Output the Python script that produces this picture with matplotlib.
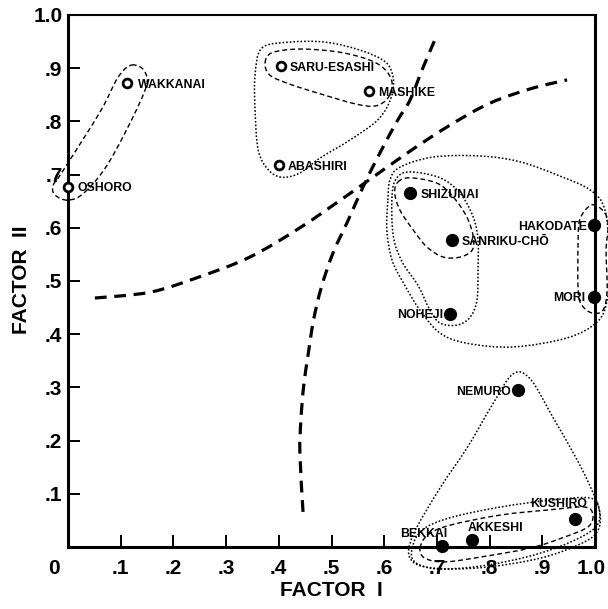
import numpy as np
import matplotlib
matplotlib.use("Agg")
import matplotlib.pyplot as plt
from matplotlib.path import Path
from matplotlib.patches import PathPatch
from matplotlib.transforms import ScaledTranslation

plt.rcParams['lines.scale_dashes'] = False
plt.rcParams['font.family'] = ['Liberation Sans', 'DejaVu Sans']

# ---- station loadings on the two factors ----
open_names = ["WAKKANAI", "OSHORO", "SARU-ESASHI", "MASHIKE", "ABASHIRI"]
open_f1 = [0.112, 0.000, 0.404, 0.571, 0.400]
open_f2 = [0.872, 0.677, 0.904, 0.857, 0.718]

solid_names = ["SHIZUNAI", "SANRIKU-CHŌ", "HAKODATE", "MORI", "NOHEJI",
               "NEMURO", "KUSHIRO", "AKKESHI", "BEKKAI"]
solid_f1 = [0.649, 0.729, 0.998, 0.998, 0.725, 0.854, 0.962, 0.767, 0.710]
solid_f2 = [0.665, 0.577, 0.605, 0.470, 0.438, 0.295, 0.053, 0.013, 0.002]

tick_values = [0.1, 0.2, 0.3, 0.4, 0.5, 0.6, 0.7, 0.8, 0.9, 1.0]
tick_labels = [".1", ".2", ".3", ".4", ".5", ".6", ".7", ".8", ".9", "1.0"]

# ---- dividing curves between the regional types ----
divide_a_x = [0.051, 0.156, 0.250, 0.345, 0.440, 0.540, 0.640, 0.720, 0.800, 0.880, 0.947]
divide_a_y = [0.468, 0.479, 0.508, 0.545, 0.600, 0.668, 0.738, 0.790, 0.834, 0.862, 0.878]

divide_b_x = [0.446, 0.440, 0.442, 0.447, 0.456, 0.466, 0.481, 0.503, 0.532,
              0.560, 0.592, 0.626, 0.649, 0.674, 0.700]
divide_b_y = [0.066, 0.177, 0.239, 0.301, 0.364, 0.427, 0.489, 0.553, 0.615,
              0.677, 0.741, 0.803, 0.840, 0.902, 0.962]

# ---- group outlines ----
wakkanai_oshoro_x = [0.121, 0.146, 0.144, 0.080, 0.032, 0.000, -0.025, -0.028, -0.011, 0.061, 0.095]
wakkanai_oshoro_y = [0.906, 0.893, 0.853, 0.727, 0.667, 0.652, 0.662, 0.680, 0.705, 0.818, 0.883]

saru_mashike_x = [0.374, 0.387, 0.440, 0.516, 0.573, 0.602, 0.615, 0.607, 0.583, 0.545, 0.478, 0.421, 0.383]
saru_mashike_y = [0.910, 0.929, 0.936, 0.930, 0.915, 0.897, 0.872, 0.844, 0.829, 0.833, 0.852, 0.870, 0.887]

western_trio_x = [0.368, 0.421, 0.488, 0.554, 0.602, 0.617, 0.613, 0.588, 0.535,
                  0.478, 0.440, 0.406, 0.380, 0.361, 0.355, 0.355]
western_trio_y = [0.938, 0.949, 0.949, 0.934, 0.912, 0.882, 0.844, 0.803, 0.765,
                  0.731, 0.703, 0.695, 0.709, 0.746, 0.821, 0.887]

shizunai_sanriku_x = [0.626, 0.649, 0.700, 0.731, 0.757, 0.769, 0.767, 0.744, 0.712, 0.681, 0.655, 0.630, 0.620]
shizunai_sanriku_y = [0.686, 0.694, 0.684, 0.658, 0.620, 0.583, 0.558, 0.545, 0.545, 0.564, 0.596, 0.633, 0.665]

pacific_trio_x = [0.615, 0.624, 0.649, 0.706, 0.744, 0.769, 0.778, 0.778, 0.776, 0.763,
                  0.738, 0.706, 0.687, 0.664, 0.634, 0.617]
pacific_trio_y = [0.662, 0.694, 0.705, 0.694, 0.665, 0.620, 0.577, 0.521, 0.464, 0.432,
                  0.417, 0.421, 0.445, 0.492, 0.536, 0.586]

southern_five_x = [0.607, 0.611, 0.630, 0.693, 0.782, 0.858, 0.934, 0.991, 1.019, 1.028,
                   1.023, 1.004, 0.947, 0.844, 0.757, 0.706, 0.668, 0.639, 0.615, 0.605]
southern_five_y = [0.652, 0.690, 0.714, 0.733, 0.735, 0.724, 0.697, 0.671, 0.633, 0.539,
                   0.464, 0.423, 0.393, 0.376, 0.383, 0.402, 0.445, 0.492, 0.539, 0.596]

hakodate_mori_x = [0.994, 1.017, 1.025, 1.021, 1.023, 1.015, 0.994, 0.975, 0.968, 0.968, 0.972]
hakodate_mori_y = [0.643, 0.630, 0.605, 0.558, 0.483, 0.445, 0.440, 0.455, 0.483, 0.577, 0.618]

eastern_trio_x = [0.668, 0.683, 0.725, 0.820, 0.915, 0.981, 0.996, 0.987, 0.943, 0.877, 0.782, 0.715, 0.677]
eastern_trio_y = [-0.002, 0.023, 0.041, 0.060, 0.070, 0.075, 0.060, 0.038, 0.019, -0.002, -0.019, -0.028, -0.021]

eastern_trio_outer_x = [0.653, 0.672, 0.725, 0.820, 0.915, 0.991, 1.008, 1.002, 0.953, 0.877, 0.782, 0.700, 0.658]
eastern_trio_outer_y = [-0.002, 0.032, 0.055, 0.075, 0.088, 0.092, 0.070, 0.038, 0.009, -0.017, -0.036, -0.041, -0.028]

eastern_four_x = [0.844, 0.877, 0.920, 0.966, 0.994, 1.009, 1.006, 0.977, 0.896, 0.782,
                  0.687, 0.649, 0.655, 0.706, 0.757, 0.805]
eastern_four_y = [0.325, 0.316, 0.244, 0.164, 0.107, 0.066, 0.032, 0.008, -0.021, -0.039,
                  -0.039, -0.021, 0.023, 0.111, 0.186, 0.267]


def smooth_path(xs, ys, closed=True):
    """Cubic Bezier path running through the given waypoints (Catmull-Rom)."""
    pts = np.column_stack([xs, ys]).astype(float)
    n = len(pts)
    if closed:
        get = lambda i: pts[i % n]
        segs = n
    else:
        get = lambda i: pts[min(max(i, 0), n - 1)]
        segs = n - 1
    verts = [pts[0]]
    codes = [Path.MOVETO]
    for i in range(segs):
        p0, p1, p2, p3 = get(i - 1), get(i), get(i + 1), get(i + 2)
        verts += [p1 + (p2 - p0) / 6.0, p2 - (p3 - p1) / 6.0, p2]
        codes += [Path.CURVE4] * 3
    return Path(verts, codes)


fig = plt.figure(figsize=(6.08, 6.09), dpi=100)
ax = fig.add_axes([68 / 608, 1 - 547 / 609, 527 / 608, 532 / 609])
ax.set_xlim(0, 1)
ax.set_ylim(0, 1)

heavy = dict(facecolor='none', edgecolor='black', linewidth=2.3,
             linestyle=(0, (8.5, 5.5)), capstyle='butt', clip_on=False, zorder=2)
dashed = dict(facecolor='none', edgecolor='black', linewidth=1.0,
              linestyle=(0, (3.5, 2.2)), clip_on=False, zorder=2)
dotted = dict(facecolor='none', edgecolor='black', linewidth=1.1,
              linestyle=(0, (1.2, 1.4)), clip_on=False, zorder=2)

ax.add_patch(PathPatch(smooth_path(divide_a_x, divide_a_y, closed=False), **heavy))
ax.add_patch(PathPatch(smooth_path(divide_b_x, divide_b_y, closed=False), **heavy))

for xs, ys in [(wakkanai_oshoro_x, wakkanai_oshoro_y),
               (saru_mashike_x, saru_mashike_y),
               (shizunai_sanriku_x, shizunai_sanriku_y),
               (hakodate_mori_x, hakodate_mori_y),
               (eastern_trio_x, eastern_trio_y)]:
    ax.add_patch(PathPatch(smooth_path(xs, ys), **dashed))

for xs, ys in [(western_trio_x, western_trio_y),
               (pacific_trio_x, pacific_trio_y),
               (southern_five_x, southern_five_y),
               (eastern_trio_outer_x, eastern_trio_outer_y),
               (eastern_four_x, eastern_four_y)]:
    ax.add_patch(PathPatch(smooth_path(xs, ys), **dotted))

ax.plot(open_f1, open_f2, 'o', ms=6.3, mfc='white', mec='black', mew=2.0,
        clip_on=False, zorder=5)
ax.plot(solid_f1, solid_f2, 'o', ms=8.5, mfc='black', mec='black',
        clip_on=False, zorder=5)

label_style = dict(fontsize=8.8, fontweight='bold', textcoords='offset points',
                   zorder=6, annotation_clip=False)
open_offsets = [(8, 0, 'left'), (7, 0, 'left'), (6.5, 0, 'left'),
                (6.5, 0, 'left'), (6.5, 0, 'left')]
for name, x, y, (dx, dy, ha) in zip(open_names, open_f1, open_f2, open_offsets):
    ax.annotate(name, (x, y), xytext=(dx, dy), ha=ha, va='center_baseline', **label_style)

solid_offsets = [(8, 0, 'left'), (7, -0.5, 'left'), (-5, 0, 'right'), (-6.5, 0, 'right'),
                 (-5, 0, 'right'), (-5.5, -0.5, 'right'), (-12, 12, 'center'),
                 (-3, 9.5, 'left'), (3.5, 10, 'right')]
for name, x, y, (dx, dy, ha) in zip(solid_names, solid_f1, solid_f2, solid_offsets):
    ax.annotate(name, (x, y), xytext=(dx, dy), ha=ha, va='center_baseline', **label_style)

# ---- axes frame and ticks ----
for side in ['left', 'bottom', 'right']:
    ax.spines[side].set_linewidth(2.2)
ax.spines['top'].set_linewidth(1.5)

ax.set_xticks([0.0] + tick_values)
ax.set_xticklabels(["0"] + tick_labels)
ax.set_yticks(tick_values)
ax.set_yticklabels(tick_labels)
ax.tick_params(direction='in', length=8.5, width=1.4, labelsize=15)
ax.tick_params(axis='x', pad=9)
ax.tick_params(axis='y', pad=4)
ax.xaxis.get_major_ticks()[0].tick1line.set_visible(False)
for lab in ax.get_xticklabels() + ax.get_yticklabels():
    lab.set_fontweight('bold')
xlabels = ax.get_xticklabels()
zero = xlabels[0]
zero.set_transform(zero.get_transform() + ScaledTranslation(-14 / 100, 0, fig.dpi_scale_trans))
last = xlabels[-1]
last.set_transform(last.get_transform() + ScaledTranslation(-4 / 100, 0, fig.dpi_scale_trans))

fig.text(331 / 608, 1 - 591 / 609, "FACTOR  I", ha='center', va='center',
         fontsize=15, fontweight='bold')
fig.text(22 / 608, 1 - 280 / 609, "FACTOR  II", ha='center', va='center',
         rotation=90, fontsize=15, fontweight='bold')

fig.savefig("out.png", dpi=100)
